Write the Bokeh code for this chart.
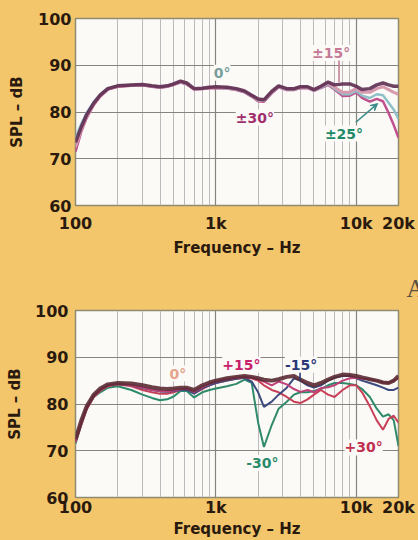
from bokeh.plotting import figure
from bokeh.layouts import column
from bokeh.models import FixedTicker, Label, Arrow, VeeHead, Title
from bokeh.embed import file_html
from bokeh.resources import INLINE

# ---------------- data ----------------
freq = [100, 110, 120, 135, 150, 170, 200, 250, 300, 350, 400, 450, 500, 560, 620,
        700, 800, 900, 1000, 1200, 1400, 1600, 1800, 2000, 2200, 2500, 2800, 3200,
        3600, 4000, 4500, 5000, 5600, 6300, 7000, 8000, 9000, 10000, 11000, 12500,
        14000, 15500, 17000, 18500, 20000]

# upper chart (horizontal angles)
top_0 = [73.5, 76.8, 79.4, 81.9, 83.6, 85.0, 85.6, 85.8, 85.9, 85.6, 85.4, 85.6, 86.0, 86.6, 86.2,
         85.0, 85.1, 85.3, 85.4, 85.3, 85.0, 84.5, 83.6, 82.8, 82.6, 84.4, 85.6, 85.0,
         85.0, 85.4, 85.4, 84.8, 85.5, 86.4, 85.8, 86.0, 86.0, 85.5, 84.8, 85.0,
         85.8, 86.2, 85.8, 85.5, 85.5]
top_15 = [72.5, 76.2, 79.0, 81.7, 83.5, 84.9, 85.5, 85.7, 85.8, 85.5, 85.3, 85.5, 85.9, 86.5, 86.1,
          84.9, 85.0, 85.2, 85.3, 85.2, 84.9, 84.4, 83.5, 82.6, 82.5, 84.3, 85.5, 84.9,
          84.9, 85.3, 85.3, 84.7, 85.4, 86.2, 85.3, 84.2, 84.3, 85.0, 84.2, 84.2,
          85.0, 85.4, 84.8, 84.2, 83.8]
top_25 = [74.5, 77.5, 79.8, 82.2, 83.8, 85.1, 85.6, 85.8, 85.8, 85.5, 85.3, 85.5, 85.9, 86.4, 86.0,
          84.9, 85.0, 85.2, 85.2, 85.1, 84.8, 84.3, 83.4, 82.5, 82.4, 84.2, 85.4, 84.8,
          84.8, 85.2, 85.2, 84.6, 85.2, 86.0, 85.0, 83.8, 83.8, 84.5, 83.5, 83.0,
          83.8, 83.6, 82.0, 80.5, 78.5]
top_30 = [71.5, 75.8, 78.7, 81.5, 83.3, 84.8, 85.4, 85.6, 85.7, 85.4, 85.2, 85.4, 85.8, 86.3, 85.9,
          84.8, 84.9, 85.1, 85.1, 85.0, 84.7, 84.2, 83.3, 82.3, 82.2, 84.0, 85.3, 84.7,
          84.7, 85.1, 85.1, 84.5, 85.1, 85.8, 84.8, 83.4, 83.5, 84.2, 83.0, 82.2,
          82.8, 82.3, 79.8, 77.2, 74.5]

# lower chart (vertical angles)
bot_0 = [72.5, 76.5, 79.5, 82.0, 83.3, 84.2, 84.5, 84.4, 84.0, 83.6, 83.3, 83.2, 83.3, 83.5, 83.5,
         83.0, 84.0, 84.6, 85.0, 85.5, 85.8, 86.0, 85.8, 85.5, 85.2, 85.0, 85.3, 85.8,
         86.0, 85.2, 84.5, 84.0, 84.5, 85.2, 85.8, 86.3, 86.2, 86.0, 85.7, 85.3,
         85.0, 84.6, 84.5, 85.0, 86.0]
bot_p15 = [72.0, 76.0, 79.0, 81.8, 83.0, 84.0, 84.3, 84.0, 83.5, 83.0, 82.8, 82.7, 82.9, 83.2, 83.3,
           82.6, 83.6, 84.3, 84.8, 85.3, 85.6, 85.8, 85.6, 85.3, 84.8, 84.0, 84.8, 84.2,
           83.2, 82.6, 83.0, 82.5, 83.4, 83.6, 84.0, 85.0, 85.5, 85.6, 85.4, 85.3,
           85.0, 84.6, 84.5, 85.0, 85.5]
bot_m15 = [72.0, 76.0, 79.2, 81.8, 83.0, 84.0, 84.3, 84.0, 83.4, 83.0, 82.7, 82.6, 82.8, 83.0, 83.0,
           82.2, 83.4, 84.0, 84.5, 85.0, 85.4, 85.6, 84.8, 82.5, 79.4, 80.5, 82.0, 83.5,
           85.5, 85.0, 84.0, 83.5, 84.0, 85.0, 85.6, 86.0, 86.0, 85.5, 85.0, 84.5,
           84.0, 83.5, 83.0, 83.0, 83.5]
bot_p30 = [71.8, 75.5, 78.8, 81.5, 82.8, 83.8, 84.2, 83.8, 83.0, 82.5, 82.2, 82.2, 82.5, 83.0, 83.2,
           82.3, 83.2, 84.0, 84.5, 85.0, 85.4, 85.6, 85.5, 85.0, 84.0, 83.0, 82.5, 81.5,
           80.5, 80.2, 81.0, 82.0, 83.0, 82.0, 81.5, 83.0, 84.0, 84.0, 82.5, 79.5,
           76.5, 74.5, 76.8, 77.5, 76.0]
bot_m30 = [71.5, 75.5, 78.8, 81.5, 82.5, 83.5, 83.8, 83.0, 82.0, 81.3, 80.8, 81.0, 81.6, 82.8, 82.8,
           81.4, 82.5, 83.0, 83.3, 83.8, 84.3, 85.2, 84.5, 76.0, 70.8, 75.5, 79.0, 80.5,
           82.0, 82.5, 82.5, 82.8, 83.2, 84.0, 84.5, 84.5, 84.3, 84.0, 83.2, 81.5,
           79.0, 77.3, 77.8, 76.5, 71.0]

x_ticks = [100, 1000, 10000, 20000]
x_tick_labels = ["100", "1k", "10k", "20k"]
y_ticks = [60, 70, 80, 90, 100]
grid_major_f = [100, 1000, 10000]
grid_minor_f = [200, 300, 400, 500, 600, 700, 800, 900,
                2000, 3000, 4000, 5000, 6000, 7000, 8000, 9000]
grid_db = [70, 80, 90]

# ---------------- style ----------------
PAGE = "#F4C66C"
PLOT_BG = "#FBFAF7"
TXT = "#2A1A0E"
FONT = "DejaVu Sans"


def make_fig(height, left, right, top, bottom, tick_standoff_x, tick_standoff_y, ylab_standoff, xlab_standoff):
    p = figure(width=418, height=height, x_axis_type="log", x_range=(100, 20000), y_range=(60, 100),
               output_backend="svg", toolbar_location=None,
               min_border_left=left, min_border_right=right,
               min_border_top=top, min_border_bottom=bottom,
               background_fill_color=PLOT_BG, border_fill_color=PAGE,
               outline_line_color="#8E8C70")
    p.outline_line_width = 1.5
    p.xaxis.ticker = FixedTicker(ticks=x_ticks)
    p.xaxis.major_label_overrides = dict(zip(x_ticks, x_tick_labels))
    p.yaxis.ticker = FixedTicker(ticks=y_ticks)
    for ax in (p.xaxis[0], p.yaxis[0]):
        ax.axis_line_color = None
        ax.major_tick_line_color = None
        ax.minor_tick_line_color = None
        ax.major_tick_out = 0
        ax.major_tick_in = 0
        ax.minor_tick_out = 0
        ax.minor_tick_in = 0
        ax.major_label_text_font = FONT
        ax.major_label_text_font_style = "bold"
        ax.major_label_text_font_size = "16px"
        ax.major_label_text_color = TXT
        ax.axis_label_text_font = FONT
        ax.axis_label_text_font_style = "bold"
        ax.axis_label_text_font_size = "15px"
        ax.axis_label_text_color = TXT
    p.xaxis.major_label_standoff = tick_standoff_x
    p.yaxis.major_label_standoff = tick_standoff_y
    p.yaxis.axis_label = "SPL – dB"
    p.yaxis.axis_label_standoff = ylab_standoff
    p.xaxis.axis_label = "Frequency – Hz"
    p.xaxis.axis_label_standoff = xlab_standoff
    p.xgrid.ticker = FixedTicker(ticks=grid_major_f, minor_ticks=grid_minor_f)
    p.xgrid.grid_line_color = "#85857E"
    p.xgrid.grid_line_width = 1.2
    p.xgrid.minor_grid_line_color = "#BDB9BC"
    p.xgrid.minor_grid_line_width = 1
    p.ygrid.ticker = FixedTicker(ticks=grid_db)
    p.ygrid.grid_line_color = "#85857E"
    p.ygrid.grid_line_width = 1.2
    return p


def add_label(p, x, y, text, color, size="14px"):
    p.add_layout(Label(x=x, y=y, text=text, text_align="center", text_baseline="middle",
                       text_font=FONT, text_font_style="bold", text_font_size=size,
                       text_color=color, background_fill_color=PLOT_BG,
                       border_line_color=None))


# ---------------- top chart ----------------
p1 = make_fig(262, 72, 20, 18, 57, 8, 4, 9, 3)
p1.line(freq, top_30, line_color="#C0508E", line_width=2.5)
p1.line(freq, top_25, line_color="#8FC0C8", line_width=2.5)
p1.line(freq, top_15, line_color="#D79AAE", line_width=3)
p1.line(freq, top_0, line_color="#5E2E52", line_width=3.5, line_alpha=0.9)

add_label(p1, 1108, 88.4, "0°", "#7A9E9C")
add_label(p1, 1894, 78.8, "±30°", "#A0306E")
add_label(p1, 6620, 92.6, "±15°", "#C57A95")
add_label(p1, 8180, 75.4, "±25°", "#1E8A68")
p1.add_layout(Arrow(end=None, x_start=7540, y_start=91.0, x_end=7540, y_end=86.4,
                    line_color="#C07890", line_width=1.5))
p1.add_layout(Arrow(end=VeeHead(size=7, line_color="#3A8A8A", fill_color="#3A8A8A", line_width=1),
                    x_start=9935, y_start=77.8, x_end=14200, y_end=81.8,
                    line_color="#3A8A8A", line_width=1.5))

# ---------------- bottom chart ----------------
p2 = make_fig(278, 75, 18, 48, 43, 0, 7, 8, 0)
p2.line(freq, bot_m30, line_color="#2E8A6A", line_width=2)
p2.line(freq, bot_p30, line_color="#C84058", line_width=2)
p2.line(freq, bot_m15, line_color="#3C4A7E", line_width=2)
p2.line(freq, bot_p15, line_color="#C0407A", line_width=2)
p2.line(freq, bot_0, line_color="#5A2A32", line_width=4, line_alpha=0.9)

add_label(p2, 536, 86.5, "0°", "#E5A38C")
add_label(p2, 1520, 88.4, "+15°", "#C8206A")
add_label(p2, 4044, 88.4, "-15°", "#283878")
add_label(p2, 2141, 67.4, "-30°", "#2A8A6A")
add_label(p2, 11280, 70.7, "+30°", "#C03050")
p2.add_layout(Arrow(end=None, x_start=3975, y_start=86.7, x_end=3975, y_end=85.0,
                    line_color="#283878", line_width=1.5))
p2.add_layout(Title(text="A", align="right", offset=-26, standoff=18,
                    text_font="Liberation Serif", text_font_style="normal",
                    text_font_size="25px", text_color="#5A5040"), "above")

layout = column(p1, p2, spacing=0, styles={"background-color": PAGE})
open("out.html", "w").write(file_html(layout, INLINE))
